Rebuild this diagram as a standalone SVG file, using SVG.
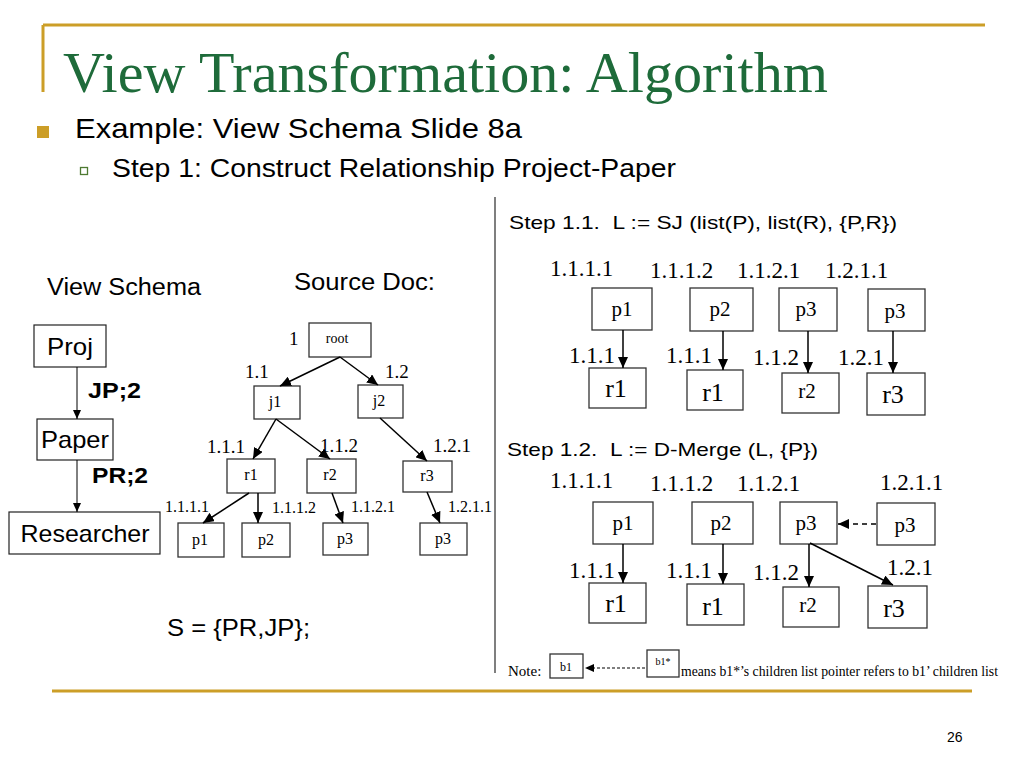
<svg xmlns="http://www.w3.org/2000/svg" width="1024" height="768" viewBox="0 0 1024 768">
<style>
.gold{stroke:#CC9E27;stroke-width:3;fill:none}
.box{fill:#fff;stroke:#333;stroke-width:1.3}
.sbox{fill:#fff;stroke:#222;stroke-width:1.2}
.sans{font-family:"Liberation Sans",Arial,sans-serif;fill:#000}
.ser{font-family:"Liberation Serif","Times New Roman",serif;fill:#000}
.c{text-anchor:middle}
.ln{stroke:#000;stroke-width:1.5;fill:none}
.thin{stroke:#000;stroke-width:1;fill:none}
.dash{stroke:#000;stroke-width:1.5;fill:none;stroke-dasharray:5 4}
</style>
<defs>
<marker id="ah" markerUnits="userSpaceOnUse" markerWidth="11" markerHeight="10" refX="11" refY="5" orient="auto"><path d="M0,0 L11,5 L0,10 z" fill="#000"/></marker>
<marker id="ahs" markerUnits="userSpaceOnUse" markerWidth="9" markerHeight="8" refX="9" refY="4" orient="auto"><path d="M0,0 L9,4 L0,8 z" fill="#000"/></marker>
</defs>
<rect width="1024" height="768" fill="#fff"/>

<!-- slide frame -->
<path class="gold" d="M43,25 H985 M43,25 V92"/>
<path class="gold" d="M52,691 H972"/>
<text x="63" y="92" font-family="'Liberation Serif','Times New Roman',serif" font-size="58" fill="#1E6B3A" textLength="765" lengthAdjust="spacingAndGlyphs">View Transformation: Algorithm</text>
<rect x="37" y="126" width="12" height="12" fill="#CC9E27"/>
<text class="sans" x="75" y="138" font-size="28" textLength="447" lengthAdjust="spacingAndGlyphs">Example: View Schema Slide 8a</text>
<rect x="80.5" y="167.5" width="7" height="7" fill="none" stroke="#4E7A32" stroke-width="1.3"/>
<text class="sans" x="112" y="177" font-size="26" textLength="564" lengthAdjust="spacingAndGlyphs">Step 1: Construct Relationship Project-Paper</text>
<line x1="495" y1="197" x2="495" y2="673" stroke="#555" stroke-width="1.5"/>
<text class="sans" x="947" y="742" font-size="14" fill="#333">26</text>

<!-- View Schema -->
<text class="sans" x="47" y="295" font-size="23" textLength="154" lengthAdjust="spacingAndGlyphs">View Schema</text>
<g id="schema-proj"><rect class="sbox" x="34" y="325" width="72" height="42"/><text class="sans c" x="70" y="355" font-size="24" textLength="46" lengthAdjust="spacingAndGlyphs">Proj</text></g>
<g id="schema-paper"><rect class="sbox" x="37" y="419" width="76" height="41"/><text class="sans c" x="75" y="448" font-size="24" textLength="68" lengthAdjust="spacingAndGlyphs">Paper</text></g>
<g id="schema-researcher"><rect class="sbox" x="9" y="512" width="151" height="42"/><text class="sans c" x="85" y="542" font-size="24" textLength="129" lengthAdjust="spacingAndGlyphs">Researcher</text></g>
<g id="schema-edges">
<line class="thin" x1="77" y1="367" x2="77" y2="419" marker-end="url(#ahs)"/>
<line class="thin" x1="77" y1="460" x2="77" y2="512" marker-end="url(#ahs)"/>
<text class="sans" x="88" y="398" font-size="22" font-weight="bold" textLength="53" lengthAdjust="spacingAndGlyphs">JP;2</text>
<text class="sans" x="92" y="483" font-size="22" font-weight="bold" textLength="56" lengthAdjust="spacingAndGlyphs">PR;2</text>
</g>
<text class="sans" x="167" y="636" font-size="24" textLength="143" lengthAdjust="spacingAndGlyphs">S = {PR,JP};</text>

<!-- Source Doc tree -->
<text class="sans" x="294" y="290" font-size="23" textLength="141" lengthAdjust="spacingAndGlyphs">Source Doc:</text>
<g id="t-root"><rect class="box" x="309" y="323" width="62" height="34"/><text class="ser c" x="337" y="343" font-size="14">root</text></g>
<g id="t-j1"><rect class="box" x="254" y="386" width="46" height="33"/><text class="ser c" x="275" y="407" font-size="16">j1</text></g>
<g id="t-j2"><rect class="box" x="358" y="385" width="45" height="33"/><text class="ser c" x="379" y="406" font-size="16">j2</text></g>
<g id="t-r1"><rect class="box" x="227" y="459" width="48" height="34"/><text class="ser c" x="251" y="480" font-size="16">r1</text></g>
<g id="t-r2"><rect class="box" x="307" y="459" width="49" height="34"/><text class="ser c" x="330" y="480" font-size="16">r2</text></g>
<g id="t-r3"><rect class="box" x="403" y="461" width="49" height="31"/><text class="ser c" x="427" y="481" font-size="16">r3</text></g>
<g id="t-p1"><rect class="box" x="178" y="523" width="46" height="34"/><text class="ser c" x="200" y="545" font-size="16">p1</text></g>
<g id="t-p2"><rect class="box" x="242" y="523" width="48" height="34"/><text class="ser c" x="266" y="545" font-size="16">p2</text></g>
<g id="t-p3a"><rect class="box" x="323" y="523" width="45" height="32"/><text class="ser c" x="345" y="544" font-size="16">p3</text></g>
<g id="t-p3b"><rect class="box" x="420" y="523" width="47" height="32"/><text class="ser c" x="443" y="544" font-size="16">p3</text></g>
<g id="tree-edges">
<line class="ln" x1="340" y1="357" x2="280" y2="386" marker-end="url(#ah)"/>
<line class="ln" x1="340" y1="357" x2="378" y2="385" marker-end="url(#ah)"/>
<line class="ln" x1="276" y1="419" x2="253" y2="459" marker-end="url(#ah)"/>
<line class="ln" x1="276" y1="419" x2="330" y2="459" marker-end="url(#ah)"/>
<line class="ln" x1="380" y1="418" x2="427" y2="461" marker-end="url(#ah)"/>
<line class="ln" x1="249" y1="493" x2="203" y2="523" marker-end="url(#ah)"/>
<line class="ln" x1="258" y1="493" x2="258" y2="523" marker-end="url(#ah)"/>
<line class="ln" x1="332" y1="493" x2="343" y2="523" marker-end="url(#ah)"/>
<line class="ln" x1="427" y1="492" x2="440" y2="523" marker-end="url(#ah)"/>
</g>
<g id="tree-labels">
<text class="ser" x="289" y="345" font-size="19">1</text>
<text class="ser" x="245" y="378" font-size="19">1.1</text>
<text class="ser" x="385" y="378" font-size="19">1.2</text>
<text class="ser" x="207" y="453" font-size="19">1.1.1</text>
<text class="ser" x="320" y="452" font-size="19">1.1.2</text>
<text class="ser" x="433" y="452" font-size="19">1.2.1</text>
<text class="ser" x="165" y="512" font-size="16">1.1.1.1</text>
<text class="ser" x="272" y="513" font-size="16">1.1.1.2</text>
<text class="ser" x="351" y="512" font-size="16">1.1.2.1</text>
<text class="ser" x="448" y="512" font-size="16">1.2.1.1</text>
</g>

<!-- Step 1.1 -->
<text class="sans" x="509" y="229" font-size="19" textLength="388" lengthAdjust="spacingAndGlyphs">Step 1.1.&#160; L := SJ (list(P), list(R), {P,R})</text>
<g id="a-p1"><rect class="box" x="592" y="288" width="60" height="42"/><text class="ser c" x="622" y="316" font-size="21">p1</text></g>
<g id="a-p2"><rect class="box" x="690" y="288" width="63" height="43"/><text class="ser c" x="720" y="316" font-size="21">p2</text></g>
<g id="a-p3"><rect class="box" x="779" y="288" width="58" height="43"/><text class="ser c" x="806" y="316" font-size="21">p3</text></g>
<g id="a-p3b"><rect class="box" x="868" y="289" width="57" height="42"/><text class="ser c" x="895" y="318" font-size="21">p3</text></g>
<g id="a-r1"><rect class="box" x="589" y="368" width="57" height="40"/><text class="ser c" x="616" y="397" font-size="26">r1</text></g>
<g id="a-r1b"><rect class="box" x="687" y="370" width="56" height="40"/><text class="ser c" x="713" y="401" font-size="26">r1</text></g>
<g id="a-r2"><rect class="box" x="782" y="373" width="57" height="40"/><text class="ser c" x="807" y="398" font-size="21">r2</text></g>
<g id="a-r3"><rect class="box" x="867" y="373" width="58" height="42"/><text class="ser c" x="893" y="403" font-size="26">r3</text></g>
<g id="a-edges">
<line class="ln" x1="623" y1="330" x2="623" y2="368" marker-end="url(#ah)"/>
<line class="ln" x1="723" y1="331" x2="723" y2="370" marker-end="url(#ah)"/>
<line class="ln" x1="808" y1="331" x2="808" y2="373" marker-end="url(#ah)"/>
<line class="ln" x1="893" y1="331" x2="893" y2="373" marker-end="url(#ah)"/>
</g>
<g id="a-labels">
<text class="ser" x="550" y="276" font-size="23">1.1.1.1</text>
<text class="ser" x="650" y="278" font-size="23">1.1.1.2</text>
<text class="ser" x="737" y="278" font-size="23">1.1.2.1</text>
<text class="ser" x="825" y="278" font-size="23">1.2.1.1</text>
<text class="ser" x="569" y="363" font-size="23">1.1.1</text>
<text class="ser" x="666" y="363" font-size="23">1.1.1</text>
<text class="ser" x="753" y="365" font-size="23">1.1.2</text>
<text class="ser" x="838" y="365" font-size="23">1.2.1</text>
</g>

<!-- Step 1.2 -->
<text class="sans" x="507" y="456" font-size="19" textLength="311" lengthAdjust="spacingAndGlyphs">Step 1.2.&#160; L := D-Merge (L, {P})</text>
<g id="b-p1"><rect class="box" x="593" y="502" width="60" height="42"/><text class="ser c" x="623" y="530" font-size="21">p1</text></g>
<g id="b-p2"><rect class="box" x="692" y="502" width="61" height="42"/><text class="ser c" x="721" y="530" font-size="21">p2</text></g>
<g id="b-p3"><rect class="box" x="780" y="502" width="57" height="42"/><text class="ser c" x="806" y="530" font-size="21">p3</text></g>
<g id="b-p3b"><rect class="box" x="877" y="503" width="58" height="42"/><text class="ser c" x="905" y="532" font-size="21">p3</text></g>
<g id="b-r1"><rect class="box" x="589" y="583" width="57" height="40"/><text class="ser c" x="616" y="612" font-size="26">r1</text></g>
<g id="b-r1b"><rect class="box" x="687" y="584" width="57" height="41"/><text class="ser c" x="713" y="615" font-size="26">r1</text></g>
<g id="b-r2"><rect class="box" x="783" y="587" width="56" height="40"/><text class="ser c" x="808" y="612" font-size="21">r2</text></g>
<g id="b-r3"><rect class="box" x="868" y="586" width="59" height="42"/><text class="ser c" x="894" y="617" font-size="26">r3</text></g>
<g id="b-edges">
<line class="ln" x1="623" y1="544" x2="623" y2="583" marker-end="url(#ah)"/>
<line class="ln" x1="723" y1="544" x2="723" y2="584" marker-end="url(#ah)"/>
<line class="ln" x1="809" y1="544" x2="809" y2="587" marker-end="url(#ah)"/>
<line class="ln" x1="810" y1="543" x2="893" y2="585" marker-end="url(#ah)"/>
<line class="dash" x1="876" y1="524" x2="838" y2="524" marker-end="url(#ah)"/>
</g>
<g id="b-labels">
<text class="ser" x="550" y="488" font-size="23">1.1.1.1</text>
<text class="ser" x="650" y="491" font-size="23">1.1.1.2</text>
<text class="ser" x="737" y="491" font-size="23">1.1.2.1</text>
<text class="ser" x="880" y="490" font-size="23">1.2.1.1</text>
<text class="ser" x="569" y="578" font-size="23">1.1.1</text>
<text class="ser" x="666" y="578" font-size="23">1.1.1</text>
<text class="ser" x="753" y="580" font-size="23">1.1.2</text>
<text class="ser" x="887" y="575" font-size="23">1.2.1</text>
</g>

<!-- Note -->
<g id="note">
<text class="ser" x="508" y="676" font-size="15">Note:</text>
<rect class="box" x="550" y="654" width="33" height="24" stroke-width="1"/>
<text class="ser c" x="566" y="671" font-size="12">b1</text>
<rect class="box" x="647" y="650" width="32" height="27" stroke-width="1"/>
<text class="ser c" x="663" y="665" font-size="10">b1*</text>
<line x1="645" y1="668" x2="585" y2="668" stroke="#000" stroke-width="1.2" stroke-dasharray="3 2" marker-end="url(#ahs)"/>
<text class="ser" x="681" y="676" font-size="14.5" textLength="317" lengthAdjust="spacingAndGlyphs">means b1*’s children list pointer refers to b1’ children list</text>
</g>
</svg>
